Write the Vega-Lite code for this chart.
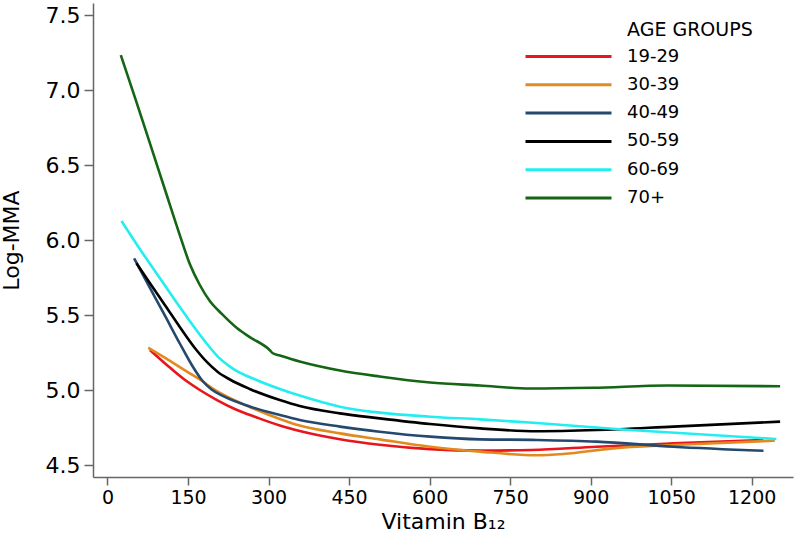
{
  "$schema": "https://vega.github.io/schema/vega-lite/v6.json",
  "width": 700,
  "height": 474,
  "autosize": {"type": "none"},
  "padding": {"left": 93, "top": 3, "right": 4, "bottom": 62},
  "background": "white",
  "config": {
    "font": "DejaVu Sans",
    "view": {"stroke": null},
    "axis": {"domainColor": "#666666", "tickColor": "#666666", "domainWidth": 1.5, "tickWidth": 1.5, "labelColor": "#000000", "titleColor": "#000000", "titleFontWeight": "normal", "grid": false}
  },
  "data": {"values": [
    {"age": "19-29", "b12": 79, "mma": 5.267},
    {"age": "19-29", "b12": 110.5, "mma": 5.167},
    {"age": "19-29", "b12": 142, "mma": 5.073},
    {"age": "19-29", "b12": 172, "mma": 5.0},
    {"age": "19-29", "b12": 204, "mma": 4.933},
    {"age": "19-29", "b12": 235, "mma": 4.877},
    {"age": "19-29", "b12": 278, "mma": 4.817},
    {"age": "19-29", "b12": 321, "mma": 4.763},
    {"age": "19-29", "b12": 358, "mma": 4.727},
    {"age": "19-29", "b12": 433, "mma": 4.672},
    {"age": "19-29", "b12": 507, "mma": 4.635},
    {"age": "19-29", "b12": 601, "mma": 4.606},
    {"age": "19-29", "b12": 694, "mma": 4.596},
    {"age": "19-29", "b12": 790, "mma": 4.6},
    {"age": "19-29", "b12": 911, "mma": 4.622},
    {"age": "19-29", "b12": 1054, "mma": 4.644},
    {"age": "19-29", "b12": 1222, "mma": 4.667},
    {"age": "30-39", "b12": 76, "mma": 5.282},
    {"age": "30-39", "b12": 110.5, "mma": 5.207},
    {"age": "30-39", "b12": 148, "mma": 5.123},
    {"age": "30-39", "b12": 172, "mma": 5.07},
    {"age": "30-39", "b12": 196, "mma": 5.01},
    {"age": "30-39", "b12": 222, "mma": 4.957},
    {"age": "30-39", "b12": 265, "mma": 4.887},
    {"age": "30-39", "b12": 321, "mma": 4.807},
    {"age": "30-39", "b12": 358, "mma": 4.763},
    {"age": "30-39", "b12": 433, "mma": 4.711},
    {"age": "30-39", "b12": 507, "mma": 4.671},
    {"age": "30-39", "b12": 601, "mma": 4.622},
    {"age": "30-39", "b12": 694, "mma": 4.589},
    {"age": "30-39", "b12": 800, "mma": 4.565},
    {"age": "30-39", "b12": 849, "mma": 4.573},
    {"age": "30-39", "b12": 942, "mma": 4.611},
    {"age": "30-39", "b12": 1054, "mma": 4.633},
    {"age": "30-39", "b12": 1243, "mma": 4.662},
    {"age": "40-49", "b12": 49.6, "mma": 5.878},
    {"age": "40-49", "b12": 78.8, "mma": 5.683},
    {"age": "40-49", "b12": 106.8, "mma": 5.497},
    {"age": "40-49", "b12": 134.7, "mma": 5.31},
    {"age": "40-49", "b12": 157, "mma": 5.167},
    {"age": "40-49", "b12": 175.7, "mma": 5.067},
    {"age": "40-49", "b12": 194, "mma": 5.003},
    {"age": "40-49", "b12": 216.7, "mma": 4.957},
    {"age": "40-49", "b12": 265, "mma": 4.89},
    {"age": "40-49", "b12": 321, "mma": 4.833},
    {"age": "40-49", "b12": 358, "mma": 4.8},
    {"age": "40-49", "b12": 433, "mma": 4.756},
    {"age": "40-49", "b12": 507, "mma": 4.722},
    {"age": "40-49", "b12": 601, "mma": 4.689},
    {"age": "40-49", "b12": 694, "mma": 4.671},
    {"age": "40-49", "b12": 800, "mma": 4.667},
    {"age": "40-49", "b12": 911, "mma": 4.656},
    {"age": "40-49", "b12": 1054, "mma": 4.622},
    {"age": "40-49", "b12": 1222, "mma": 4.595},
    {"age": "50-59", "b12": 54, "mma": 5.845},
    {"age": "50-59", "b12": 78.8, "mma": 5.713},
    {"age": "50-59", "b12": 106.8, "mma": 5.567},
    {"age": "50-59", "b12": 134.7, "mma": 5.42},
    {"age": "50-59", "b12": 162.7, "mma": 5.28},
    {"age": "50-59", "b12": 185, "mma": 5.187},
    {"age": "50-59", "b12": 205.5, "mma": 5.12},
    {"age": "50-59", "b12": 228, "mma": 5.07},
    {"age": "50-59", "b12": 265, "mma": 5.007},
    {"age": "50-59", "b12": 321, "mma": 4.933},
    {"age": "50-59", "b12": 358, "mma": 4.893},
    {"age": "50-59", "b12": 433, "mma": 4.844},
    {"age": "50-59", "b12": 507, "mma": 4.811},
    {"age": "50-59", "b12": 601, "mma": 4.773},
    {"age": "50-59", "b12": 694, "mma": 4.744},
    {"age": "50-59", "b12": 800, "mma": 4.725},
    {"age": "50-59", "b12": 911, "mma": 4.733},
    {"age": "50-59", "b12": 1054, "mma": 4.756},
    {"age": "50-59", "b12": 1253, "mma": 4.789},
    {"age": "60-69", "b12": 26, "mma": 6.127},
    {"age": "60-69", "b12": 60.2, "mma": 5.94},
    {"age": "60-69", "b12": 97.4, "mma": 5.747},
    {"age": "60-69", "b12": 134.7, "mma": 5.553},
    {"age": "60-69", "b12": 162.7, "mma": 5.413},
    {"age": "60-69", "b12": 186.9, "mma": 5.3},
    {"age": "60-69", "b12": 205.5, "mma": 5.223},
    {"age": "60-69", "b12": 233.5, "mma": 5.143},
    {"age": "60-69", "b12": 277.6, "mma": 5.067},
    {"age": "60-69", "b12": 321, "mma": 5.007},
    {"age": "60-69", "b12": 358, "mma": 4.963},
    {"age": "60-69", "b12": 433, "mma": 4.889},
    {"age": "60-69", "b12": 507, "mma": 4.849},
    {"age": "60-69", "b12": 601, "mma": 4.822},
    {"age": "60-69", "b12": 694, "mma": 4.804},
    {"age": "60-69", "b12": 800, "mma": 4.78},
    {"age": "60-69", "b12": 974, "mma": 4.733},
    {"age": "60-69", "b12": 1246, "mma": 4.673},
    {"age": "70+", "b12": 24.8, "mma": 7.233},
    {"age": "70+", "b12": 50.9, "mma": 6.953},
    {"age": "70+", "b12": 78.8, "mma": 6.647},
    {"age": "70+", "b12": 106.7, "mma": 6.34},
    {"age": "70+", "b12": 134.7, "mma": 6.033},
    {"age": "70+", "b12": 153.3, "mma": 5.84},
    {"age": "70+", "b12": 172, "mma": 5.7},
    {"age": "70+", "b12": 190.6, "mma": 5.593},
    {"age": "70+", "b12": 213, "mma": 5.507},
    {"age": "70+", "b12": 241, "mma": 5.413},
    {"age": "70+", "b12": 265, "mma": 5.353},
    {"age": "70+", "b12": 302, "mma": 5.267},
    {"age": "70+", "b12": 308, "mma": 5.245},
    {"age": "70+", "b12": 321, "mma": 5.23},
    {"age": "70+", "b12": 358, "mma": 5.19},
    {"age": "70+", "b12": 433, "mma": 5.13},
    {"age": "70+", "b12": 507, "mma": 5.09},
    {"age": "70+", "b12": 601, "mma": 5.05},
    {"age": "70+", "b12": 694, "mma": 5.03},
    {"age": "70+", "b12": 787, "mma": 5.01},
    {"age": "70+", "b12": 904, "mma": 5.015},
    {"age": "70+", "b12": 1044, "mma": 5.03},
    {"age": "70+", "b12": 1253, "mma": 5.025}
  ]},
  "mark": {"type": "line", "strokeWidth": 2.6, "interpolate": "monotone"},
  "encoding": {
    "x": {
      "field": "b12", "type": "quantitative",
      "scale": {"domain": [-27, 1277], "nice": false, "zero": false},
      "axis": {"title": "Vitamin B₁₂", "values": [0, 150, 300, 450, 600, 750, 900, 1050, 1200], "format": "d", "tickSize": 8, "labelFontSize": 19, "labelPadding": 3, "labelFlush": false, "titleFontSize": 22, "titlePadding": 4}
    },
    "y": {
      "field": "mma", "type": "quantitative",
      "scale": {"domain": [4.42, 7.58], "nice": false, "zero": false},
      "axis": {"title": "Log-MMA", "values": [4.5, 5, 5.5, 6, 6.5, 7, 7.5], "format": ".1f", "tickSize": 9, "labelFontSize": 22, "labelPadding": 4, "labelFlush": false, "titleFontSize": 22, "titlePadding": 22}
    },
    "color": {
      "field": "age", "type": "nominal",
      "scale": {"domain": ["19-29", "30-39", "40-49", "50-59", "60-69", "70+"], "range": ["#e8161b", "#e28a1f", "#24496e", "#000000", "#22eef2", "#146614"]},
      "legend": {
        "title": "AGE GROUPS", "orient": "none", "legendX": 534, "legendY": 18,
        "titleFontSize": 19, "titleFontWeight": "normal", "titleColor": "#000000", "titlePadding": 7.5,
        "labelFontSize": 18, "labelColor": "#000000", "labelOffset": -18, "rowPadding": 10.3,
        "symbolType": "M-110.5,0H-24.5", "symbolSize": 4, "symbolStrokeWidth": 3, "padding": 0
      }
    }
  }
}
